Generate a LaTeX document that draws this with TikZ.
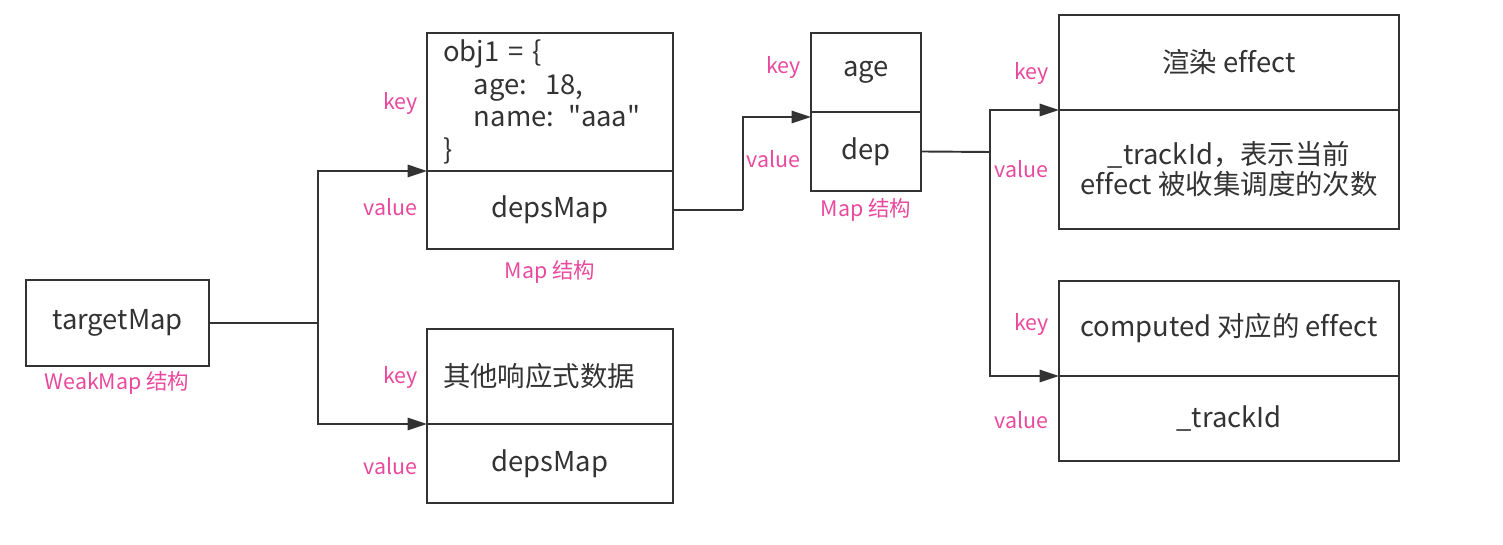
\documentclass[tikz,border=0pt]{standalone}
\usepackage{fontspec}
\setmainfont{Noto Sans CJK SC}[Ligatures={TeXOff,CommonOff}]
\usetikzlibrary{positioning,arrows.meta}
\definecolor{ink}{HTML}{333333}
\definecolor{tagpink}{HTML}{E9499D}

\begin{document}
\begin{tikzpicture}[x=0.02cm,y=-0.02cm,
    cell/.style={draw=ink,line width=1.1pt,text=ink,inner sep=0pt,outer sep=0pt,
      font=\fontsize{15.6}{18}\selectfont,align=center},
    tag/.style={text=tagpink,inner sep=0pt,font=\fontsize{12.2}{14}\selectfont},
    link/.style={draw=ink,line width=1.1pt},
    arr/.style={link,-{Triangle[length=11pt,width=7pt]}}]
  \useasboundingbox (0,0) rectangle (1503,544);
  % WeakMap
  \node[cell,minimum width=3.66cm,minimum height=1.72cm] (tm) at (117.5,323) {targetMap};
  \node[tag] (tmtag) at (117,383) {WeakMap 结构};
  % first entry
  \node[cell,anchor=north west,minimum width=4.92cm,minimum height=2.76cm,
    inner xsep=0.32cm,text width=4.28cm,align=left,font=\fontsize{15.6}{18.7}\selectfont]
    (objkey) at (427,33) {obj1 = \{\\ \hspace*{0.62cm}age:\ \ 18,\\ \hspace*{0.62cm}name: "aaa"\\ \}};
  \node[cell,below=0pt of objkey,minimum width=4.92cm,minimum height=1.56cm] (objval) {depsMap};
  \node[tag,anchor=east] (k1) at (418,103) {key};
  \node[tag,anchor=east] (v1) at (418,207) {value};
  \node[tag] (objtag) at (550,272) {Map 结构};
  % second entry
  \node[cell,anchor=north west,minimum width=4.92cm,minimum height=1.9cm,
    inner xsep=0.32cm,text width=4.28cm,align=left] (othkey) at (427,329) {其他响应式数据};
  \node[cell,below=0pt of othkey,minimum width=4.92cm,minimum height=1.58cm] (othval) {depsMap};
  \node[tag,anchor=east] (k2) at (418,377) {key};
  \node[tag,anchor=east] (v2) at (418,466) {value};
  % depsMap
  \node[cell,anchor=north west,minimum width=2.2cm,minimum height=1.58cm] (agekey) at (811,33) {age};
  \node[cell,below=0pt of agekey,minimum width=2.2cm,minimum height=1.58cm] (dep) {dep};
  \node[tag,anchor=east] (k3) at (801,67) {key};
  \node[tag,anchor=east] (v3) at (801,159) {value};
  \node[tag] (deptag) at (866,210) {Map 结构};
  % dep entries
  \node[cell,anchor=north west,minimum width=6.8cm,minimum height=1.9cm] (rkey) at (1059,15) {渲染 effect};
  \node[cell,below=0pt of rkey,minimum width=6.8cm,minimum height=2.38cm,
    font=\fontsize{15.6}{17}\selectfont] (rval) {\_trackId，表示当前\\effect 被收集调度的次数};
  \node[tag,anchor=east] (k4) at (1049,73) {key};
  \node[tag,anchor=east] (v4) at (1049,169) {value};
  \node[cell,anchor=north west,minimum width=6.8cm,minimum height=1.9cm] (ckey) at (1059,281) {computed 对应的 effect};
  \node[cell,below=0pt of ckey,minimum width=6.8cm,minimum height=1.7cm] (cval) {\_trackId};
  \node[tag,anchor=east] (k5) at (1049,324) {key};
  \node[tag,anchor=east] (v5) at (1049,420) {value};
  % connectors
  \coordinate (j1) at (318,323);
  \draw[link] (tm.east) -- (j1);
  \draw[arr] (j1) |- (objkey.south west);
  \draw[arr] (j1) |- (othkey.south west);
  \coordinate (j2) at (743,210);
  \draw[link] (objval.east) -- (j2);
  \draw[arr] (j2) |- ([yshift=-0.1cm]agekey.south west);
  \coordinate (j3) at (990,152);
  \draw[link] (dep.east) -- (j3);
  \draw[arr] (j3) |- (rkey.south west);
  \draw[arr] (j3) |- (ckey.south west);
\end{tikzpicture}
\end{document}
